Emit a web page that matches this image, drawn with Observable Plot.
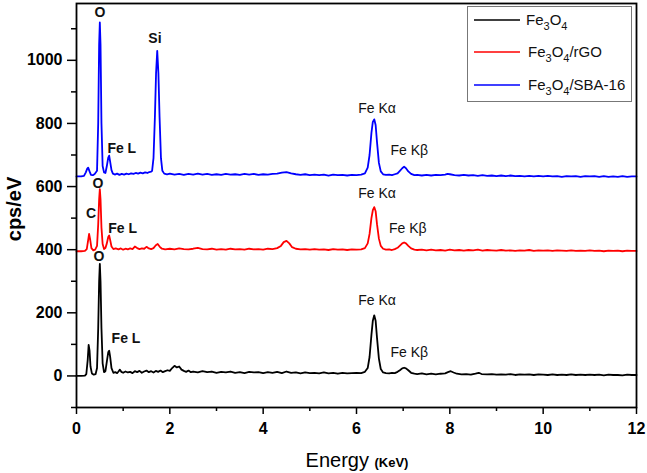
<!DOCTYPE html>
<html>
<head>
<meta charset="utf-8">
<script src="https://cdn.jsdelivr.net/npm/d3@7"></script>
<script src="https://cdn.jsdelivr.net/npm/@observablehq/plot@0.6"></script>
<style>
  html, body { margin: 0; padding: 0; background: #fff; }
  svg { display: block; }
</style>
</head>
<body>
<div id="chart"></div>
<script>
// ---- Data (energy in keV, counts in cps/eV) ----
const fe3o4 = [[0,0],[0.1,0],[0.18,1],[0.21,6],[0.24,50],[0.26,98],[0.28,80],[0.30,30],[0.33,8],[0.37,4],[0.41,6],[0.44,25],[0.465,150],[0.485,300],[0.50,355],[0.515,300],[0.535,150],[0.56,40],[0.59,12],[0.62,15],[0.65,45],[0.68,75],[0.70,80],[0.72,62],[0.75,25],[0.79,10],[0.83,12],[0.87,9],[0.9,14],[0.93,20],[0.96,13],[1.0,10],[1.05,14],[1.1,11],[1.15,13],[1.2,9],[1.25,15],[1.3,12],[1.35,16],[1.4,10],[1.45,14],[1.5,17],[1.55,12],[1.6,15],[1.65,11],[1.7,16],[1.75,13],[1.8,17],[1.85,12],[1.9,15],[1.95,18],[2.0,16],[2.05,25],[2.1,32],[2.15,27],[2.2,30],[2.25,20],[2.3,16],[2.35,13],[2.4,17],[2.45,12],[2.5,14],[2.6,11],[2.7,15],[2.8,12],[2.9,14],[3.0,10],[3.1,13],[3.2,11],[3.3,14],[3.4,10],[3.5,12],[3.6,9],[3.7,13],[3.8,11],[3.9,12],[4.0,9],[4.1,12],[4.2,10],[4.3,13],[4.4,9],[4.5,14],[4.6,10],[4.7,11],[4.8,8],[4.9,11],[5.0,9],[5.1,10],[5.2,8],[5.3,11],[5.4,8],[5.5,10],[5.6,7],[5.7,10],[5.8,8],[5.9,9],[6.0,10],[6.1,9],[6.18,13],[6.24,25],[6.28,60],[6.32,130],[6.35,175],[6.38,192],[6.41,175],[6.44,120],[6.48,55],[6.52,22],[6.57,11],[6.63,9],[6.7,8],[6.76,10],[6.82,9],[6.88,13],[6.93,18],[6.98,24],[7.02,26],[7.06,24],[7.11,18],[7.17,10],[7.24,7],[7.3,6],[7.4,8],[7.5,5],[7.6,7],[7.7,5],[7.8,7],[7.9,8],[7.96,12],[8.02,15],[8.08,11],[8.15,7],[8.25,5],[8.35,6],[8.45,4],[8.55,7],[8.62,10],[8.68,6],[8.8,5],[8.9,6],[9.0,4],[9.1,5],[9.2,4],[9.3,6],[9.4,3],[9.5,5],[9.6,4],[9.7,5],[9.8,3],[9.9,5],[10.0,4],[10.1,3],[10.2,5],[10.3,3],[10.4,4],[10.5,3],[10.6,5],[10.7,3],[10.8,4],[10.9,3],[11.0,4],[11.1,3],[11.2,4],[11.3,2],[11.4,4],[11.5,3],[11.6,3],[11.7,2],[11.8,4],[11.9,3],[12.0,3]];

const fe3o4_rgo = [[0,395],[0.1,395],[0.18,396],[0.22,402],[0.25,430],[0.27,450],[0.29,435],[0.32,405],[0.36,398],[0.40,400],[0.44,412],[0.465,480],[0.485,560],[0.50,592],[0.515,560],[0.535,470],[0.56,418],[0.59,402],[0.62,405],[0.65,420],[0.68,440],[0.70,445],[0.72,432],[0.75,410],[0.79,402],[0.84,404],[0.9,401],[0.95,404],[1.0,400],[1.05,403],[1.1,401],[1.15,404],[1.2,402],[1.25,410],[1.3,405],[1.35,402],[1.4,404],[1.45,403],[1.5,409],[1.55,404],[1.6,402],[1.65,405],[1.7,414],[1.74,418],[1.78,410],[1.83,403],[1.9,401],[2.0,403],[2.1,401],[2.2,404],[2.3,402],[2.4,401],[2.5,403],[2.6,406],[2.7,402],[2.8,401],[2.9,403],[3.0,400],[3.1,402],[3.2,400],[3.3,403],[3.4,401],[3.5,402],[3.6,400],[3.7,403],[3.8,401],[3.9,402],[4.0,400],[4.1,403],[4.2,402],[4.3,405],[4.38,412],[4.44,424],[4.5,428],[4.56,420],[4.62,408],[4.7,403],[4.8,401],[4.9,402],[5.0,400],[5.1,402],[5.2,400],[5.3,401],[5.4,399],[5.5,402],[5.6,400],[5.7,401],[5.8,399],[5.9,401],[6.0,400],[6.1,401],[6.18,405],[6.24,420],[6.28,450],[6.32,500],[6.35,525],[6.38,535],[6.41,522],[6.44,480],[6.48,435],[6.52,412],[6.57,403],[6.63,400],[6.7,401],[6.76,399],[6.82,402],[6.88,406],[6.93,413],[6.98,420],[7.02,423],[7.06,420],[7.11,412],[7.17,404],[7.24,400],[7.3,399],[7.4,400],[7.5,398],[7.6,400],[7.7,398],[7.8,399],[7.9,397],[8.0,400],[8.1,398],[8.2,399],[8.3,397],[8.4,399],[8.5,398],[8.6,400],[8.7,397],[8.8,399],[8.9,398],[9.0,397],[9.1,399],[9.2,397],[9.3,398],[9.4,396],[9.5,398],[9.6,397],[9.7,399],[9.8,396],[9.9,398],[10.0,397],[10.1,398],[10.2,396],[10.3,398],[10.4,397],[10.5,396],[10.6,398],[10.7,396],[10.8,397],[10.9,396],[11.0,398],[11.1,396],[11.2,397],[11.3,395],[11.4,397],[11.5,396],[11.6,397],[11.7,395],[11.8,397],[11.9,396],[12.0,396]];

const fe3o4_sba = [[0,632],[0.1,632],[0.16,634],[0.2,645],[0.23,657],[0.25,660],[0.28,648],[0.31,637],[0.35,636],[0.39,640],[0.44,650],[0.465,800],[0.485,1050],[0.50,1120],[0.515,1050],[0.535,800],[0.56,665],[0.59,645],[0.62,643],[0.65,665],[0.68,692],[0.70,698],[0.72,680],[0.75,652],[0.78,641],[0.82,638],[0.87,641],[0.92,637],[0.97,640],[1.02,638],[1.07,641],[1.12,639],[1.17,642],[1.22,640],[1.27,643],[1.32,641],[1.37,644],[1.42,642],[1.47,645],[1.52,643],[1.56,646],[1.6,647],[1.62,650],[1.65,690],[1.68,820],[1.705,960],[1.73,1030],[1.755,960],[1.78,820],[1.81,690],[1.84,650],[1.88,641],[1.94,639],[2.0,641],[2.1,638],[2.2,640],[2.3,637],[2.4,640],[2.5,638],[2.6,641],[2.7,638],[2.8,640],[2.9,637],[3.0,639],[3.1,637],[3.2,640],[3.3,638],[3.4,639],[3.5,637],[3.6,640],[3.7,638],[3.8,640],[3.9,637],[4.0,639],[4.1,638],[4.2,640],[4.3,641],[4.4,644],[4.5,646],[4.6,642],[4.7,639],[4.8,637],[4.9,639],[5.0,636],[5.1,638],[5.2,636],[5.3,638],[5.4,635],[5.5,638],[5.6,636],[5.7,637],[5.8,635],[5.9,637],[6.0,636],[6.1,638],[6.18,642],[6.24,660],[6.28,700],[6.32,770],[6.35,805],[6.38,813],[6.41,795],[6.44,740],[6.48,675],[6.52,648],[6.57,639],[6.63,637],[6.7,638],[6.76,636],[6.82,639],[6.88,642],[6.93,650],[6.98,658],[7.02,663],[7.06,658],[7.11,648],[7.17,640],[7.24,636],[7.3,637],[7.4,635],[7.5,637],[7.6,635],[7.7,637],[7.8,636],[7.9,638],[7.95,640],[8.0,639],[8.1,636],[8.2,635],[8.3,637],[8.4,635],[8.5,636],[8.6,634],[8.7,636],[8.8,634],[8.9,635],[9.0,633],[9.1,635],[9.2,633],[9.3,635],[9.4,633],[9.5,634],[9.6,632],[9.7,634],[9.8,632],[9.9,634],[10.0,632],[10.1,634],[10.2,632],[10.3,633],[10.4,631],[10.5,633],[10.6,632],[10.7,633],[10.8,631],[10.9,633],[11.0,632],[11.1,633],[11.2,631],[11.3,633],[11.4,631],[11.5,632],[11.6,631],[11.7,633],[11.8,631],[11.9,632],[12.0,632]];

const seriesNames = ["Fe3O4", "Fe3O4/rGO", "Fe3O4/SBA-16"];
const seriesColors = ["#000000", "#ff0000", "#0000ff"];

const xMajorTicks = [0, 2, 4, 6, 8, 10, 12];
const xMinorTicks = [1, 3, 5, 7, 9, 11];
const yMajorTicks = [0, 200, 400, 600, 800, 1000];
const yMinorTicks = [-100, 100, 300, 500, 700, 900, 1100];

// peak annotations: [text, energy, counts]
const boldLabels = [
  ["O", 0.50, 1152], ["Si", 1.68, 1070], ["Fe L", 0.97, 720],
  ["C", 0.31, 514], ["O", 0.46, 610], ["Fe L", 0.99, 467],
  ["O", 0.48, 378], ["Fe L", 1.06, 117]
];
const plainLabels = [
  ["Fe Kα", 6.44, 848], ["Fe Kβ", 7.13, 714],
  ["Fe Kα", 6.44, 578], ["Fe Kβ", 7.10, 467],
  ["Fe Kα", 6.44, 238], ["Fe Kβ", 7.13, 73]
];

const FONT = "'Liberation Sans', Arial, Helvetica, sans-serif";

const svg = Plot.plot({
  width: 647,
  height: 473,
  marginTop: 3,
  marginRight: 11,
  marginBottom: 66,
  marginLeft: 76,
  style: { fontFamily: FONT, background: "#fff", color: "#000" },
  x: { domain: [0, 12] },
  y: { domain: [-100, 1180] },
  marks: [
    Plot.line(fe3o4, { x: d => d[0], y: d => d[1], stroke: seriesColors[0], strokeWidth: 1.8 }),
    Plot.line(fe3o4_rgo, { x: d => d[0], y: d => d[1], stroke: seriesColors[1], strokeWidth: 1.8 }),
    Plot.line(fe3o4_sba, { x: d => d[0], y: d => d[1], stroke: seriesColors[2], strokeWidth: 1.8 }),
    Plot.text(boldLabels, { x: d => d[1], y: d => d[2], text: d => d[0], fontWeight: "bold", fontSize: 14, fill: "#111" }),
    Plot.text(plainLabels, { x: d => d[1], y: d => d[2], text: d => d[0], fontSize: 14, fill: "#111" }),
    Plot.axisX({ ticks: xMajorTicks, tickSize: 7, tickPadding: 8, tickFormat: d => String(d), fontSize: 16, fontWeight: "bold", strokeWidth: 1.5, label: null }),
    Plot.axisX({ ticks: xMinorTicks, tickSize: 4, tickFormat: () => "", strokeWidth: 1.5, label: null }),
    Plot.axisY({ ticks: yMajorTicks, tickSize: 9, tickPadding: 5, tickFormat: d => String(d), fontSize: 16, fontWeight: "bold", strokeWidth: 1.5, label: null }),
    Plot.axisY({ ticks: yMinorTicks, tickSize: 5, tickFormat: () => "", strokeWidth: 1.5, label: null }),
    Plot.frame({ stroke: "#000", strokeWidth: 1.8 })
  ]
});

const s = d3.select(svg);

// Y axis title
s.append("text")
  .attr("transform", "translate(21,209) rotate(-90)")
  .attr("text-anchor", "middle")
  .attr("font-family", FONT)
  .attr("font-size", 20)
  .attr("font-weight", "bold")
  .attr("fill", "#000")
  .text("cps/eV");

// X axis title
const xt = s.append("text")
  .attr("x", 357).attr("y", 467)
  .attr("text-anchor", "middle")
  .attr("font-family", FONT)
  .attr("fill", "#000");
xt.append("tspan").attr("font-size", 20).text("Energy ");
xt.append("tspan").attr("font-size", 13).attr("font-weight", "bold").text("(KeV)");

// Legend
const lg = s.append("g").attr("font-family", FONT).attr("text-anchor", "start");
lg.append("rect").attr("x", 467.5).attr("y", 6.5).attr("width", 164).attr("height", 95)
  .attr("fill", "#fff").attr("stroke", "#777").attr("stroke-width", 1);
const rowY = [20, 52, 85];
const subs = [["Fe","3","O","4",""], ["Fe","3","O","4","/rGO"], ["Fe","3","O","4","/SBA-16"]];
rowY.forEach((yy, i) => {
  lg.append("line").attr("x1", 474).attr("x2", 520).attr("y1", yy).attr("y2", yy)
    .attr("stroke", seriesColors[i]).attr("stroke-width", 1.6);
  const t = lg.append("text").attr("x", i === 0 ? 526 : 528).attr("y", yy + 5)
    .attr("text-anchor", "start")
    .attr("font-size", 15).attr("fill", "#111");
  const p = subs[i];
  t.append("tspan").text(p[0]);
  t.append("tspan").attr("font-size", 11).attr("dy", 5).text(p[1]);
  t.append("tspan").attr("dy", -5).text(p[2]);
  t.append("tspan").attr("font-size", 11).attr("dy", 5).text(p[3]);
  if (p[4]) t.append("tspan").attr("dy", -5).text(p[4]);
});

document.getElementById("chart").appendChild(svg);
</script>
</body>
</html>
